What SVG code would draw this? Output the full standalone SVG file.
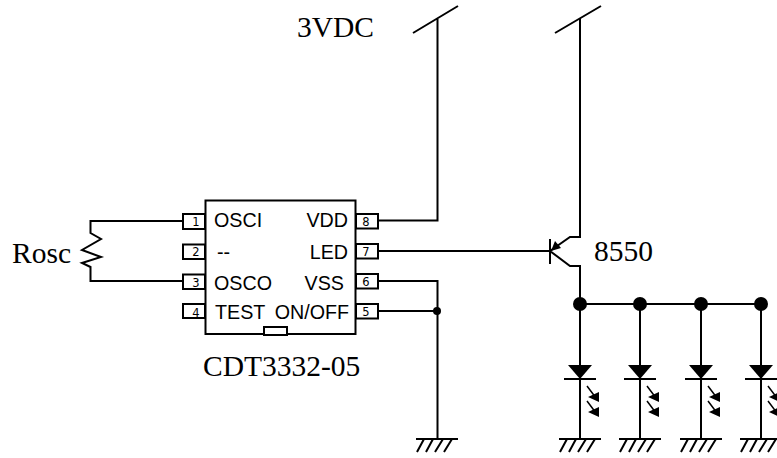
<svg xmlns="http://www.w3.org/2000/svg" xmlns:xlink="http://www.w3.org/1999/xlink" width="777" height="458" viewBox="0 0 777 458">
<style>
.w{fill:none;stroke:#000;stroke-width:2}
.t{fill:none;stroke:#000;stroke-width:1.5}
.f{fill:#000;stroke:none}
.pin{fill:#fff;stroke:#000;stroke-width:2}
.s{font-family:"Liberation Serif",serif;font-size:29.500px;fill:#000}
.a{font-family:"Liberation Sans",Arial,sans-serif;font-size:19.700px;fill:#000}
.n{font-family:"DejaVu Sans",sans-serif;font-size:11.500px;fill:#000;text-anchor:middle}
</style>
<defs>
<g id="gnd"><path class="w" d="M-21 0H21M-13 0L-20 13M-4 0L-11 13M6 0L-2 13M15 0L7 13"/></g>
<g id="led">
<path class="f" d="M-12 365H12L0 379Z"/>
<path class="w" d="M-16 379H16"/>
<path class="t" d="M7 386L16 398M7 401L16 413"/>
<path class="f" d="M19 392V402L8 397ZM19 407V417L8 412Z"/>
</g>
</defs>
<rect width="777" height="458" fill="#fff"/>
<g id="connectors">
<path class="w" d="M183 221H90.500V233L101 239L82 250L101 257L82 263L90.500 267V281H183"/>
<path class="w" d="M378 220.500H437.500V18M413 33L458 6"/>
<path class="w" d="M580 18V237H570L550 251L570 266H580V304M555 33L601 6"/>
<path class="w" d="M378 251H550M550 239V264"/>
<path class="f" d="M551 251L555 241L561 248Z"/>
<path class="w" d="M378 281H437.500V439M378 311H437.500"/>
<circle class="f" cx="437" cy="311" r="4"/>
<path class="w" d="M580 304H761M580 304V439M640 304V439M701 304V439M761 304V439"/>
<circle class="f" cx="580" cy="304" r="7"/>
<circle class="f" cx="640" cy="304" r="7"/>
<circle class="f" cx="701" cy="304" r="7"/>
<circle class="f" cx="761" cy="304" r="7"/>
</g>
<g id="chip">
<rect class="w" x="205.500" y="200.500" width="150" height="133.500"/>
<rect class="pin" x="264" y="327" width="23" height="8"/>
<text class="a" x="214" y="227">OSCI</text>
<text class="a" x="217" y="259">--</text>
<text class="a" x="214" y="290">OSCO</text>
<text class="a" x="215" y="319">TEST</text>
<text class="a" x="348" y="227" text-anchor="end">VDD</text>
<text class="a" x="348" y="259" text-anchor="end">LED</text>
<text class="a" x="344" y="290" text-anchor="end">VSS</text>
<text class="a" x="349" y="319" text-anchor="end">ON/OFF</text>
</g>
<g id="pin1"><rect class="pin" x="183" y="214" width="22" height="15"/><text class="n" x="196" y="226">1</text></g>
<g id="pin2"><rect class="pin" x="183" y="244.500" width="22" height="14.500"/><text class="n" x="196" y="256">2</text></g>
<g id="pin3"><rect class="pin" x="183" y="274.500" width="22" height="14.500"/><text class="n" x="196" y="286.500">3</text></g>
<g id="pin4"><rect class="pin" x="183" y="304" width="22" height="14"/><text class="n" x="196" y="316.500">4</text></g>
<g id="pin8"><rect class="pin" x="356" y="214" width="22" height="14.500"/><text class="n" x="366" y="226">8</text></g>
<g id="pin7"><rect class="pin" x="356" y="244" width="22" height="14.500"/><text class="n" x="366" y="256">7</text></g>
<g id="pin6"><rect class="pin" x="356" y="274" width="22" height="14.500"/><text class="n" x="366" y="286">6</text></g>
<g id="pin5"><rect class="pin" x="356" y="304" width="22" height="14.500"/><text class="n" x="366" y="316">5</text></g>
<g id="led1"><use xlink:href="#led" href="#led" x="580"/></g>
<g id="led2"><use xlink:href="#led" href="#led" x="640"/></g>
<g id="led3"><use xlink:href="#led" href="#led" x="701"/></g>
<g id="led4"><use xlink:href="#led" href="#led" x="761"/></g>
<g id="gnd1"><use xlink:href="#gnd" href="#gnd" x="437" y="439"/></g>
<g id="gnd2"><use xlink:href="#gnd" href="#gnd" x="580" y="439"/></g>
<g id="gnd3"><use xlink:href="#gnd" href="#gnd" x="640" y="439"/></g>
<g id="gnd4"><use xlink:href="#gnd" href="#gnd" x="701" y="439"/></g>
<g id="gnd5"><use xlink:href="#gnd" href="#gnd" x="761" y="439"/></g>
<g id="labels">
<text class="s" x="297" y="37">3VDC</text>
<text class="s" x="12" y="263">Rosc</text>
<text class="s" x="594" y="261">8550</text>
<text class="s" x="203" y="376">CDT3332-05</text>
</g>
</svg>
